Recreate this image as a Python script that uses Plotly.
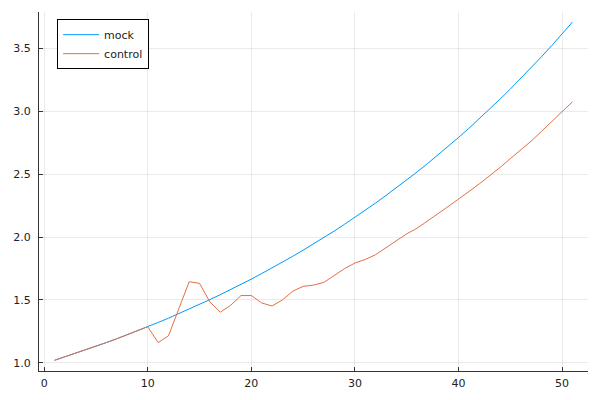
import plotly.graph_objects as go

x = list(range(1, 52))

mock = [1.020, 1.047, 1.074, 1.102, 1.131, 1.161, 1.191, 1.222, 1.254, 1.287,
        1.321, 1.355, 1.391, 1.427, 1.464, 1.503, 1.542, 1.582, 1.624, 1.666,
        1.710, 1.754, 1.800, 1.847, 1.896, 1.945, 1.996, 2.048, 2.102, 2.157,
        2.213, 2.271, 2.331, 2.392, 2.454, 2.518, 2.584, 2.652, 2.721, 2.792,
        2.865, 2.940, 3.017, 3.096, 3.177, 3.260, 3.346, 3.433, 3.523, 3.615,
        3.710]

control = [1.020, 1.047, 1.074, 1.102, 1.131, 1.161, 1.191, 1.222, 1.254, 1.287,
           1.161, 1.215, 1.430, 1.645, 1.632, 1.484, 1.403, 1.457, 1.535, 1.535,
           1.476, 1.452, 1.500, 1.570, 1.608, 1.618, 1.640, 1.693, 1.749, 1.794,
           1.822, 1.860, 1.913, 1.970, 2.026, 2.070, 2.124, 2.185, 2.243, 2.300,
           2.362, 2.423, 2.487, 2.553, 2.624, 2.693, 2.762, 2.840, 2.918, 2.998,
           3.076]

x_ticks = [0, 10, 20, 30, 40, 50]
y_ticks = [1.0, 1.5, 2.0, 2.5, 3.0, 3.5]
y_tick_labels = ["1.0", "1.5", "2.0", "2.5", "3.0", "3.5"]

fig = go.Figure()
fig.add_trace(go.Scatter(x=x, y=mock, mode="lines", name="mock",
                         line=dict(color="#009AFA", width=1)))
fig.add_trace(go.Scatter(x=x, y=control, mode="lines", name="control",
                         line=dict(color="#E36F47", width=1)))

axis_common = dict(
    showgrid=True, gridcolor="rgba(0,0,0,0.08)", gridwidth=0.5,
    zeroline=False, showline=True, linecolor="#333333", linewidth=1.2,
    ticks="inside", ticklen=4, tickcolor="#333333", tickwidth=1,
    tickfont=dict(family="DejaVu Sans", size=11, color="#222222"),
    mirror=False, automargin=False,
)

# the page body adds an 8px offset, so the figure is 592x392
fig.update_layout(
    width=592, height=392,
    margin=dict(l=31, r=12, t=4, b=29, autoexpand=False),
    paper_bgcolor="white", plot_bgcolor="white",
    font=dict(family="DejaVu Sans", size=11, color="#222222"),
    xaxis=dict(range=[-0.5, 52.5], tickvals=x_ticks, ticklabelstandoff=2,
               **axis_common),
    yaxis=dict(range=[0.935, 3.79], tickvals=y_ticks, ticktext=y_tick_labels,
               ticklabelstandoff=5, **axis_common),
    legend=dict(x=0.033, y=0.98, xanchor="left", yanchor="top",
                bgcolor="white", bordercolor="black", borderwidth=1,
                font=dict(family="DejaVu Sans", size=11, color="#222222"),
                tracegroupgap=0, itemwidth=36),
    showlegend=True,
)

fig.write_html("out.html")
